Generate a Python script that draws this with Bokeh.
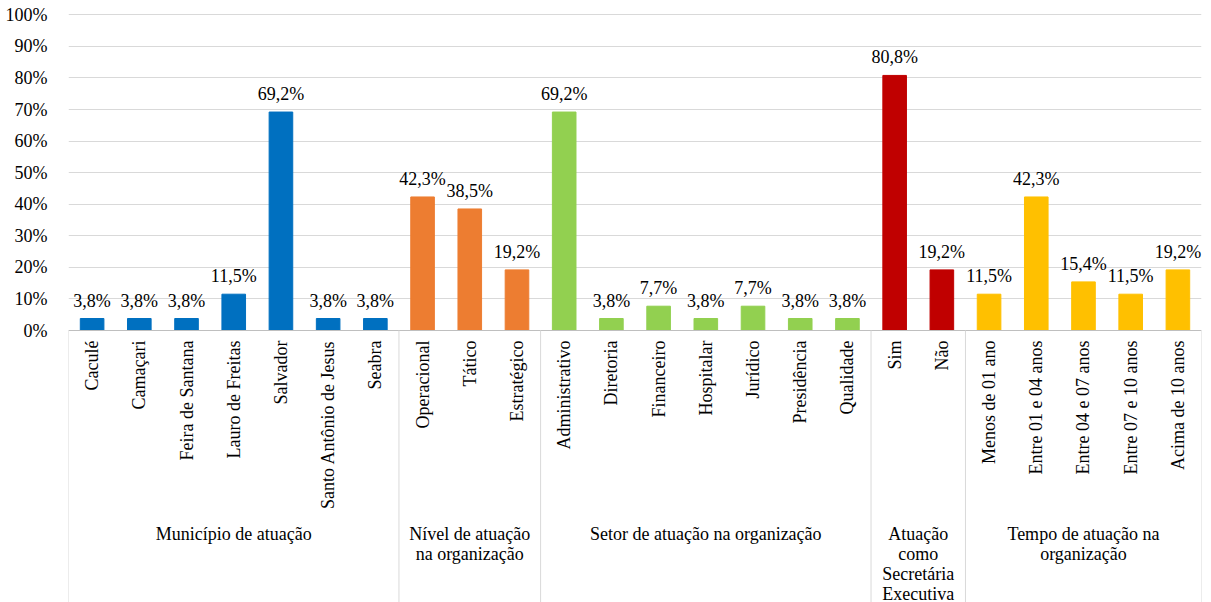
import math
from bokeh.plotting import figure
from bokeh.models import ColumnDataSource, FixedTicker, NumeralTickFormatter, Range1d
from bokeh.core.properties import value
from bokeh.embed import file_html
from bokeh.resources import INLINE

# ---- data ----
groups = ["Município de atuação", "Nível de atuação\nna organização",
          "Setor de atuação na organização", "Atuação\ncomo\nSecretária\nExecutiva",
          "Tempo de atuação na\norganização"]
municipio_cats = ["Caculé", "Camaçari", "Feira de Santana", "Lauro de Freitas",
                  "Salvador", "Santo Antônio de Jesus", "Seabra"]
municipio_vals = [3.8, 3.8, 3.8, 11.5, 69.2, 3.8, 3.8]
nivel_cats = ["Operacional", "Tático", "Estratégico"]
nivel_vals = [42.3, 38.5, 19.2]
setor_cats = ["Administrativo", "Diretoria", "Financeiro", "Hospitalar",
              "Jurídico", "Presidência", "Qualidade"]
setor_vals = [69.2, 3.8, 7.7, 3.8, 7.7, 3.8, 3.8]
secretaria_cats = ["Sim", "Não"]
secretaria_vals = [80.8, 19.2]
tempo_cats = ["Menos de 01 ano", "Entre 01 e 04 anos", "Entre 04 e 07 anos",
              "Entre 07 e 10 anos", "Acima de 10 anos"]
tempo_vals = [11.5, 42.3, 15.4, 11.5, 19.2]
group_colors = ["#0070C0", "#ED7D31", "#92D050", "#C00000", "#FFC000"]
y_ticks = [0, 0.1, 0.2, 0.3, 0.4, 0.5, 0.6, 0.7, 0.8, 0.9, 1.0]

all_cats = [municipio_cats, nivel_cats, setor_cats, secretaria_cats, tempo_cats]
all_vals = [municipio_vals, nivel_vals, setor_vals, secretaria_vals, tempo_vals]

xs, tops, cols, labels, names = [], [], [], [], []
bounds = [0]
group_centers = []
i = 0
for cats, vals, col in zip(all_cats, all_vals, group_colors):
    start = i
    for c, v in zip(cats, vals):
        xs.append(i + 0.5)
        tops.append(v / 100.0)
        cols.append(col)
        labels.append(("%.1f%%" % v).replace(".", ","))
        names.append(c)
        i += 1
    bounds.append(i)
    group_centers.append((start + i) / 2.0)

n = i
FONT_NAME = "Liberation Serif"
FONT = value(FONT_NAME)

y_start = -0.8616
y_end = 1.0295

p = figure(width=1211, height=602, output_backend="svg", toolbar_location=None,
           x_range=Range1d(0, n), y_range=Range1d(y_start, y_end),
           min_border_left=68, min_border_right=10, min_border_top=5, min_border_bottom=0)
p.outline_line_color = None
p.xaxis.visible = False
p.xgrid.visible = False
p.background_fill_color = "white"
p.border_fill_color = "white"

p.yaxis.ticker = FixedTicker(ticks=y_ticks)
p.yaxis.formatter = NumeralTickFormatter(format="0%")
p.yaxis.axis_line_color = None
p.yaxis.major_tick_line_color = None
p.yaxis.minor_tick_line_color = None
p.yaxis.major_label_standoff = 15
p.yaxis.major_label_text_font = FONT_NAME
p.yaxis.major_label_text_font_size = "18px"
p.yaxis.major_label_text_color = "#000000"
p.ygrid.ticker = FixedTicker(ticks=y_ticks)
p.ygrid.grid_line_color = "#D9D9D9"
p.ygrid.grid_line_width = 1

src = ColumnDataSource(dict(x=xs, top=tops, color=cols, label=labels, name=names))

p.vbar(x="x", top="top", bottom=0, width=0.5, color="color", source=src)

# axis line at 0
p.segment(x0=[0], y0=[0], x1=[n], y1=[0], line_color="#BFBFBF", line_width=1)
# group separators
p.segment(x0=bounds, y0=[0] * len(bounds), x1=bounds, y1=[y_start] * len(bounds),
          line_color="#D9D9D9", line_width=1)

# data labels
p.text(x="x", y="top", text="label", source=src, text_font=FONT,
       text_font_size="18px", text_color="#000000", text_align="center",
       text_baseline="middle", y_offset=-18)

# category labels (rotated)
p.text(x="x", y=0, text="name", source=src, text_font=FONT, text_font_size="18px",
       text_color="#000000", text_align="right", text_baseline="middle",
       angle=math.pi / 2, y_offset=10)

# group labels
gsrc = ColumnDataSource(dict(x=group_centers, text=groups))
p.text(x="x", y=0, text="text", source=gsrc, text_font=FONT, text_font_size="18px",
       text_color="#000000", text_align="center", text_baseline="top",
       y_offset=193, text_line_height=1.0)

open("out.html", "w").write(file_html(p, INLINE))
